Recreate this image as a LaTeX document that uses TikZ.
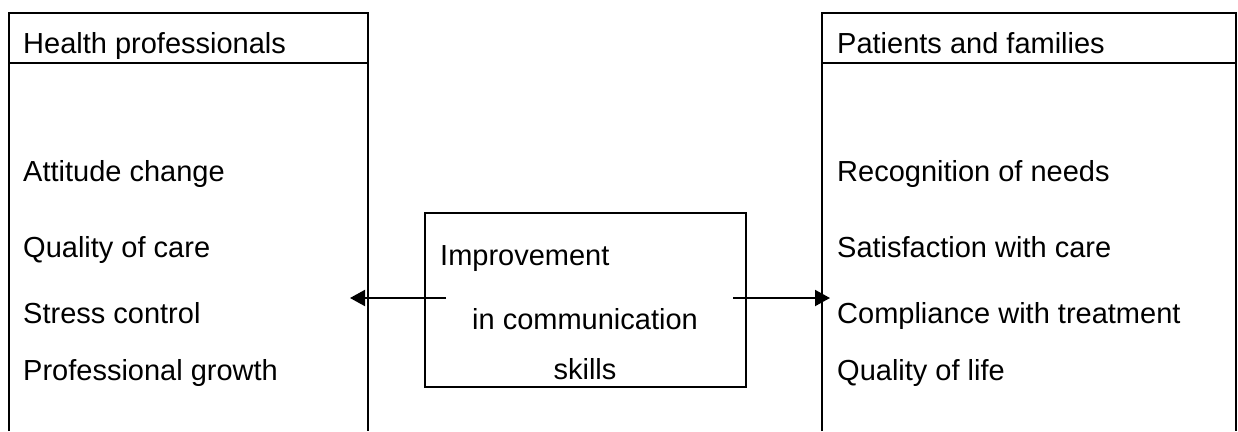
\documentclass[tikz,border=0pt]{standalone}
\usepackage{fontspec}
\setmainfont{Liberation Sans}
\usetikzlibrary{arrows.meta}
\begin{document}
\begin{tikzpicture}[x=1pt,y=-1pt,
  frame/.style={line width=2pt},
  label/.style={anchor=base west,inner sep=0pt,font=\fontsize{29}{34}\selectfont},
  clabel/.style={anchor=base,inner sep=0pt,font=\fontsize{29}{34}\selectfont},
  link/.style={line width=2pt,-{Triangle[length=15pt,width=16pt]}}]
\useasboundingbox (0,0) rectangle (1238,431);
\fill[white] (0,0) rectangle (1238,431);

% left column: health professionals
\draw[frame] (9,431) -- (9,13) -- (368,13) -- (368,431);
\draw[frame] (9,63) -- (368,63);
\node[label] (hp) at (23,53) {Health professionals};
\node[label] (hp1) at (23,181) {Attitude change};
\node[label] (hp2) at (23,257) {Quality of care};
\node[label] (hp3) at (23,323) {Stress control};
\node[label] (hp4) at (23,380) {Professional growth};

% right column: patients and families
\draw[frame] (822,431) -- (822,13) -- (1236,13) -- (1236,431);
\draw[frame] (822,63) -- (1236,63);
\node[label] (pf) at (837,53) {Patients and families};
\node[label] (pf1) at (837,181) {Recognition of needs};
\node[label] (pf2) at (837,257) {Satisfaction with care};
\node[label] (pf3) at (837,323) {Compliance with treatment};
\node[label] (pf4) at (837,380) {Quality of life};

% centre box
\node[draw,line width=2pt,minimum width=321pt,minimum height=174pt,inner sep=0pt] (mid) at (585.5,300) {};
\node[label] (m1) at (440,265) {Improvement};
\node[clabel] (m2) at (585,329) {in communication};
\node[clabel] (m3) at (585,379) {skills};

% outgoing arrows
\coordinate (ls) at (446,298);
\coordinate (lt) at (350,298);
\coordinate (rs) at (733,298);
\coordinate (rt) at (830,298);
\draw[link] (ls) -- (lt);
\draw[link] (rs) -- (rt);
\end{tikzpicture}
\end{document}
